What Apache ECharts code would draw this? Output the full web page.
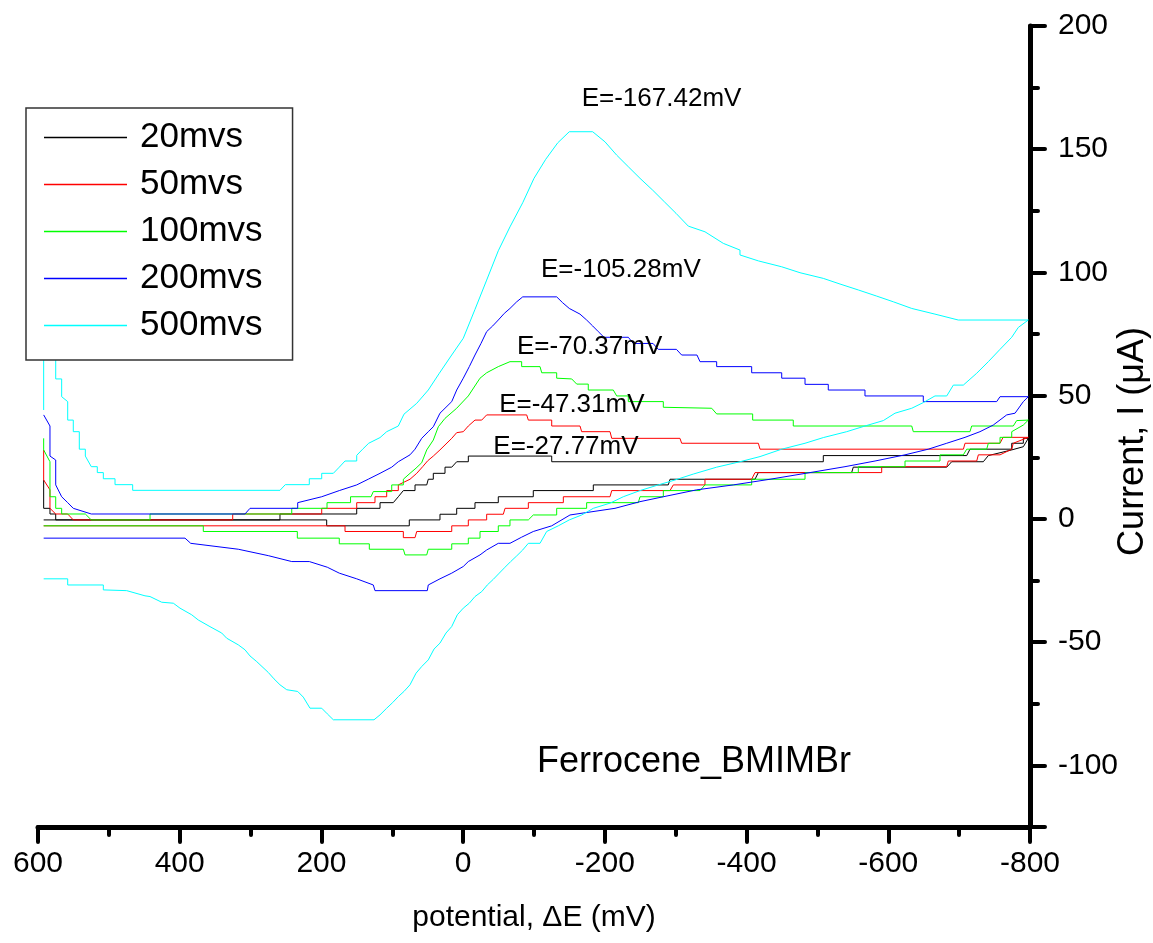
<!DOCTYPE html>
<html><head><meta charset="utf-8">
<script src="https://cdn.jsdelivr.net/npm/echarts@6/dist/echarts.min.js"></script>
<style>html,body{margin:0;padding:0;background:#fff}#c{width:1153px;height:943px}</style>
</head><body><div id="c"></div>
<script>
const seriesNames = ['20mvs', '50mvs', '100mvs', '200mvs', '500mvs'];
const seriesColors = ['#000000', '#ff0000', '#00ff00', '#0000ff', '#00ffff'];

// potential (mV), current (uA) — forward branch then reverse branch
const cv20 = [[592,15.8],[592,4.3],[583.1,4.3],[583.1,2.0],[575,2.0],[575,-0.4],[258.5,-0.4],[258.5,2.0],[150.2,2.0],[150.2,4.3],[117.3,4.3],[117.3,6.6],[98.6,6.6],[91.5,9.0],[84.4,11.5],[67.9,11.5],[67.9,13.8],[51.4,13.8],[49.2,16.1],[42.1,16.1],[42.1,18.5],[25.6,18.5],[25.6,21.0],[16.1,21.0],[9.1,23.2],[-7.3,23.2],[-7.3,25.5],[-125.0,25.5],[-125.0,23.2],[-508.3,23.2],[-508.3,25.7],[-710.7,25.7],[-715.3,28.3],[-774.2,28.3],[-774.2,30.7],[-790.6,30.7],[-790.6,32.7],[-797.6,32.7],
  [-790.6,29.3],[-774.2,28.0],[-741.2,25.7],[-734.1,23.2],[-689.5,23.2],[-682.5,21.0],[-550.6,21.0],[-548.3,18.8],[-416.6,18.8],[-411.9,16.1],[-292.0,16.1],[-289.5,13.8],[-183.7,13.8],[-183.7,11.5],[-99.0,11.5],[-99.0,9.0],[-49.6,9.0],[-49.6,6.6],[-16.7,6.6],[-16.7,4.3],[9.1,4.3],[9.1,1.9],[32.7,1.9],[32.7,-0.4],[76.0,-0.4],[76.0,-2.8],[192.6,-2.8],[192.6,-0.4],[592,-0.4]];

const cv50 = [[592,28.0],[592,15.8],[583.1,11.8],[583.1,4.3],[575,2.0],[558.1,2.0],[550.2,-0.4],[325.2,-0.4],[325.2,2.0],[199.6,2.0],[199.6,4.3],[150.2,4.3],[150.2,6.6],[124.4,6.6],[124.4,9.0],[107.9,9.0],[107.9,11.5],[91.5,11.5],[91.5,13.8],[75.0,16.1],[65.5,18.5],[57.1,21.2],[50.0,23.6],[42.1,25.5],[32.7,28.0],[24.2,30.4],[16.1,32.7],[9.1,35.0],[-0.2,35.4],[-7.3,37.7],[-16.7,40.1],[-26.2,40.1],[-33.2,42.2],[-89.7,42.2],[-92.0,40.1],[-125.0,40.1],[-125.0,37.7],[-164.9,37.7],[-167.3,35.4],[-207.3,35.4],[-209.7,32.7],[-306.0,32.7],[-308.4,30.7],[-416.6,30.7],[-419.0,28.3],[-706.0,28.3],[-708.3,30.7],[-757.7,30.7],[-762.0,33.1],[-797.6,33.1],
  [-776.4,30.7],[-774.2,28.3],[-757.7,26.0],[-727.1,26.0],[-724.8,23.5],[-684.7,23.5],[-682.5,21.2],[-590.7,21.2],[-590.7,18.8],[-411.9,18.8],[-407.2,16.1],[-341.3,16.1],[-341.3,13.8],[-296.6,13.8],[-291.9,11.5],[-209.7,11.5],[-207.3,9.0],[-141.4,9.0],[-141.4,6.6],[-92.0,6.6],[-92.0,4.3],[-59.1,4.3],[-56.7,1.9],[-33.2,1.9],[-33.2,-0.4],[-7.3,-0.4],[-7.3,-2.8],[16.1,-2.8],[16.1,-5.1],[65.5,-5.1],[67.9,-7.6],[84.4,-7.6],[84.4,-5.1],[166.7,-5.1],[166.7,-2.8],[592,-2.8]];

const cv100 = [[592,32.7],[592,28.0],[583.1,23.2],[583.1,9.0],[575,9.0],[575,4.3],[566.6,4.3],[566.6,2.0],[533.2,2.0],[524.8,-0.4],[441.9,-0.4],[441.9,2.0],[241.9,2.0],[241.9,4.3],[192.1,4.3],[192.1,6.6],[158.9,6.6],[158.9,9.0],[130.0,9.0],[126.8,11.1],[100.8,11.1],[100.8,13.8],[84.4,13.8],[84.4,16.1],[75.0,18.5],[66.5,20.6],[58.5,22.8],[51.4,28.0],[42.1,32.0],[35.0,37.4],[25.6,40.8],[9.1,44.9],[-7.3,49.9],[-23.8,57.1],[-33.2,59.3],[-49.6,61.8],[-66.1,63.8],[-82.6,63.8],[-82.6,61.8],[-108.5,61.8],[-110.9,59.3],[-132.0,59.3],[-132.0,57.1],[-153.2,56.8],[-160.3,54.7],[-176.6,54.7],[-176.6,52.3],[-211.9,52.3],[-216.7,49.9],[-233.1,49.9],[-233.1,47.6],[-282.5,47.6],[-282.5,45.3],[-350.8,44.9],[-357.8,42.6],[-408.6,42.6],[-408.6,40.1],[-465.9,40.1],[-465.9,37.7],[-633.1,37.7],[-635.3,35.4],[-715.3,35.4],[-717.7,37.7],[-776.4,37.7],[-781.2,39.9],[-797.6,40.1],
  [-790.6,38.1],[-774.2,35.4],[-774.2,33.1],[-757.7,33.1],[-757.7,30.7],[-741.2,30.7],[-738.9,28.3],[-710.7,28.3],[-705.9,26.0],[-673.0,26.0],[-673.0,23.5],[-623.6,23.5],[-623.6,21.2],[-557.7,21.2],[-557.7,18.8],[-482.5,18.8],[-482.5,16.1],[-407.2,16.1],[-407.2,13.8],[-341.3,13.8],[-334.3,11.5],[-282.5,11.5],[-282.5,9.0],[-249.6,9.0],[-247.2,6.6],[-174.3,6.6],[-174.3,4.3],[-132.0,4.3],[-132.0,1.6],[-99.0,1.6],[-92.0,-0.4],[-66.1,-0.4],[-66.1,-2.8],[-49.6,-2.8],[-49.6,-5.1],[-23.8,-5.1],[-23.8,-7.8],[-7.3,-7.8],[-7.3,-10.1],[16.1,-10.1],[16.1,-12.3],[49.2,-12.3],[51.4,-14.6],[82.0,-14.6],[84.4,-12.3],[132.4,-12.3],[132.4,-10.1],[174.8,-10.1],[174.8,-7.8],[234.0,-7.8],[234.0,-5.1],[366.7,-5.1],[366.7,-2.8],[592,-2.8]];

const cv200 = [[592,42.2],[583.1,37.7],[583.1,25.5],[575,23.9],[575,13.8],[566.6,9.0],[558.1,6.6],[550.2,4.3],[524.8,2.0],[307.9,2.0],[300.8,4.3],[233.5,4.3],[233.5,6.6],[199.6,9.0],[174.8,11.5],[150.2,13.8],[133.3,16.2],[117.3,18.5],[100.8,21.0],[91.5,23.2],[75.0,26.0],[67.9,28.3],[58.5,32.7],[49.2,35.4],[42.1,37.4],[32.7,42.9],[16.1,47.6],[9.1,52.3],[-0.2,57.1],[-8.7,61.8],[-16.7,66.5],[-25.2,71.2],[-33.2,76.0],[-41.7,78.3],[-49.6,80.7],[-58.1,83.4],[-66.1,85.4],[-75.6,88.1],[-84.1,90.1],[-132.0,90.1],[-140.5,87.7],[-149.8,85.4],[-164.9,83.1],[-174.3,80.7],[-182.8,78.3],[-190.7,76.0],[-198.8,73.7],[-233.1,73.7],[-240.1,71.2],[-268.0,71.2],[-275.4,68.8],[-301.0,68.8],[-308.4,66.5],[-330.0,66.5],[-334.3,63.8],[-357.8,63.8],[-357.8,61.8],[-407.2,61.8],[-407.2,59.3],[-449.6,59.3],[-449.6,57.1],[-482.5,57.1],[-482.5,54.6],[-515.3,54.6],[-515.3,52.3],[-567.1,52.3],[-567.1,49.9],[-649.4,49.9],[-649.4,47.6],[-753.0,47.6],[-757.7,49.6],[-797.6,49.6],
  [-790.6,47.6],[-778.9,42.9],[-767.1,42.2],[-748.2,38.1],[-729.4,35.4],[-708.3,33.1],[-682.5,30.7],[-656.5,28.3],[-623.6,26.0],[-581.3,23.5],[-538.9,21.2],[-489.5,18.8],[-433.1,16.1],[-381.3,13.8],[-329.6,11.8],[-282.5,9.0],[-249.6,7.0],[-214.3,4.3],[-150.8,1.6],[-125.0,-2.8],[-99.0,-5.1],[-82.6,-7.4],[-66.1,-9.9],[-49.6,-9.9],[-33.2,-12.6],[-23.8,-14.6],[-7.3,-17.3],[-0.2,-19.3],[16.1,-22.0],[32.7,-24.3],[49.2,-26.8],[50.6,-29.1],[124.4,-29.1],[126.8,-26.8],[150.2,-24.3],[174.8,-22.0],[191.7,-19.6],[217.1,-17.3],[241.9,-17.3],[275.0,-14.9],[317.3,-12.3],[384.5,-9.9],[392.5,-7.8],[592,-7.8]];

const cv500 = [[592,44.2],[592,90],[575,90],[575,56.8],[566.6,56.8],[566.6,49.6],[558.1,47.6],[558.1,40.1],[550.2,40.1],[550.2,35.4],[541.7,35.4],[541.7,28.3],[533.2,28.3],[533.2,25.5],[524.8,21.2],[516.3,21.2],[516.3,18.8],[507.8,18.8],[507.8,16.3],[491.3,16.3],[491.3,13.9],[466.4,13.9],[466.4,11.6],[258.5,11.6],[251.0,13.9],[217.1,13.9],[217.1,16.3],[199.6,16.3],[199.6,18.5],[183.2,18.5],[174.8,21.0],[166.7,23.5],[150.2,23.5],[150.2,25.8],[141.8,28.3],[133.3,30.7],[117.3,33.0],[107.9,35.4],[91.5,37.7],[83.5,42.5],[65.5,46.9],[49.2,52.3],[33.6,59.1],[17.1,66.1],[-0.2,73.3],[-16.7,85.0],[-33.2,96.9],[-49.6,108.8],[-66.1,118.5],[-84.1,128.3],[-100.0,138.2],[-116.5,145.9],[-133.5,152.6],[-149.8,157.1],[-182.8,157.1],[-200.2,153.0],[-216.7,147.6],[-233.1,142.9],[-249.6,138.2],[-267.5,133.4],[-283.9,128.7],[-300.4,124.0],[-317.8,118.8],[-341.3,116.5],[-367.2,111.8],[-390.7,109.1],[-390.7,107.1],[-416.6,104.7],[-449.6,102.3],[-475.4,99.9],[-508.3,97.6],[-531.9,95.3],[-557.7,92.9],[-583.7,90.4],[-607.1,88.1],[-633.1,85.4],[-665.9,83.1],[-698.8,80.7],[-797.6,80.7],
  [-783.5,77.7],[-774.2,73.7],[-757.7,68.8],[-741.2,63.8],[-724.8,59.1],[-705.9,54.3],[-691.8,54.3],[-682.5,49.9],[-665.9,49.9],[-649.4,47.2],[-633.1,44.9],[-609.5,42.9],[-593.0,39.9],[-567.1,37.7],[-541.3,35.4],[-508.3,33.0],[-482.5,30.7],[-449.6,28.3],[-419.0,25.3],[-390.7,23.2],[-357.8,21.0],[-324.8,18.2],[-299.0,15.8],[-275.4,13.8],[-249.6,11.5],[-226.0,9.0],[-207.3,6.4],[-183.7,4.3],[-167.3,1.6],[-149.8,-0.4],[-134.3,-2.8],[-117.9,-5.1],[-108.5,-9.9],[-92.0,-9.9],[-84.1,-12.6],[-75.6,-15.0],[-67.1,-17.3],[-59.1,-19.6],[-51.0,-22.0],[-42.6,-24.5],[-34.1,-26.8],[-26.2,-29.5],[-16.7,-31.5],[-8.7,-34.2],[-0.2,-36.2],[8.2,-38.9],[16.2,-43.7],[24.2,-46.3],[32.7,-50.4],[41.1,-52.8],[49.2,-57.2],[58.5,-59.9],[66.5,-62.6],[75.0,-67.3],[83.5,-70.0],[91.5,-72.1],[99.4,-74.5],[107.9,-76.8],[117.3,-79.5],[125.8,-81.5],[183.2,-81.5],[191.7,-79.1],[199.6,-76.8],[216.1,-76.8],[225.6,-72.3],[233.5,-70.0],[249.0,-69.3],[258.5,-67.3],[266.9,-64.9],[275.0,-62.3],[291.3,-57.9],[300.8,-55.6],[307.9,-53.1],[317.3,-51.1],[333.7,-48.4],[340.7,-46.3],[357.3,-43.7],[373.8,-41.0],[383.1,-38.9],[399.6,-36.2],[409.0,-34.2],[425.4,-33.8],[441.9,-31.5],[449.0,-31.2],[474.8,-29.1],[507.8,-28.8],[507.8,-26.8],[558.1,-26.8],[558.1,-24.3],[592,-24.3]];

const seriesData = [cv20, cv50, cv100, cv200, cv500];

// peak annotations: text, potential (left edge), current
const peakTexts = ['E=-167.42mV', 'E=-105.28mV', 'E=-70.37mV', 'E=-47.31mV', 'E=-27.77mV'];
const peakX = [-167.3, -109.9, -76.0, -51.0, -42.6];
const peakY = [170.3, 101.0, 69.7, 46.2, 29.4];
const noteText = 'Ferrocene_BMIMBr';
const noteX = -325.8;
const noteY = -98.5;

const FONT = '"Liberation Sans", Arial, Helvetica, sans-serif';
const chart = echarts.init(document.getElementById('c'));

const lineSeries = seriesNames.map((n, i) => ({
  name: n, type: 'line', data: seriesData[i], symbol: 'none', showSymbol: false,
  lineStyle: { width: 1, color: seriesColors[i] }, itemStyle: { color: seriesColors[i] },
  z: 2, silent: true
}));

const annotSeries = {
  name: 'annotations', type: 'scatter', symbolSize: 0, silent: true, z: 3,
  itemStyle: { opacity: 1 },
  data: peakTexts.map((t, i) => ({
    value: [peakX[i], peakY[i]],
    label: { show: true, position: 'right', distance: 0, formatter: t, fontSize: 26, color: '#000', opacity: 1, fontFamily: FONT }
  })).concat([{
    value: [noteX, noteY],
    label: { show: true, position: 'inside', formatter: noteText, fontSize: 36, color: '#000', opacity: 1, fontFamily: FONT }
  }])
};

const axisCommon = {
  axisLine: { show: true, onZero: false, lineStyle: { color: '#000', width: 5 } },
  axisTick: { show: true, inside: false, length: 15, lineStyle: { color: '#000', width: 4, cap: 'round' } },
  minorTick: { show: true, splitNumber: 2, length: 8, lineStyle: { color: '#000', width: 4, cap: 'round' } },
  splitLine: { show: false },
  minorSplitLine: { show: false }
};

chart.setOption({
  animation: false,
  backgroundColor: '#ffffff',
  textStyle: { fontFamily: FONT },
  grid: { left: 38, right: 123, top: 26, bottom: 116, outerBoundsMode: 'none', containLabel: false },
  legend: {
    data: seriesNames, orient: 'vertical', left: 26, top: 108,
    padding: [12, 30, 17, 18], itemGap: 12, itemWidth: 83, itemHeight: 1.5,
    icon: 'rect',
    backgroundColor: '#ffffff', borderColor: '#333', borderWidth: 1.5,
    selectedMode: false,
    textStyle: { fontSize: 35, color: '#000', fontFamily: FONT, padding: [0, 0, 0, 8] }
  },
  xAxis: Object.assign({
    type: 'value', inverse: true, min: -800, max: 600, interval: 200, position: 'bottom',
    name: 'potential, \u0394E (mV)', nameLocation: 'middle', nameGap: 76, nameMoveOverlap: false,
    nameTextStyle: { fontSize: 30, color: '#000', fontFamily: FONT },
    axisLabel: { fontSize: 30, color: '#000', margin: 22, fontFamily: FONT }
  }, axisCommon),
  yAxis: Object.assign({
    type: 'value', position: 'right', min: -125, max: 200, splitNumber: 6,
    name: 'Current, I (\u03bcA)', nameLocation: 'middle', nameRotate: 90, nameGap: 85, nameMoveOverlap: false,
    nameTextStyle: { fontSize: 36, color: '#000', fontFamily: FONT, padding: [0, 30, 0, 0] },
    axisLabel: { fontSize: 30, color: '#000', margin: 28, showMinLabel: false, fontFamily: FONT }
  }, axisCommon),
  series: lineSeries.concat([annotSeries])
});
</script>
</body></html>
